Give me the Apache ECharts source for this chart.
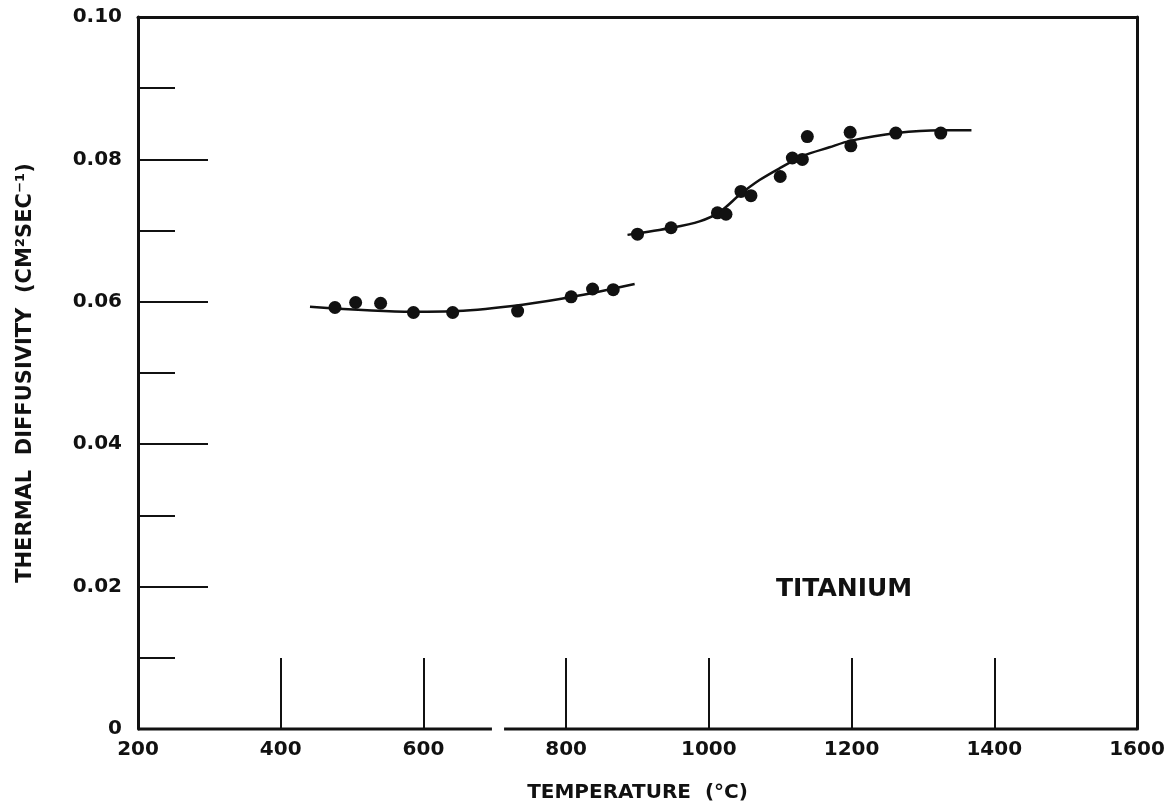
<!DOCTYPE html>
<html>
<head>
<meta charset="utf-8">
<script src="https://cdn.jsdelivr.net/npm/echarts@6/dist/echarts.min.js"></script>
<style>
  html, body { margin: 0; padding: 0; background: #fff; }
  #chart { width: 1172px; height: 811px; }
</style>
</head>
<body>
<div id="chart"></div>
<script>
// Measured points: temperature (°C) and thermal diffusivity (cm² s⁻¹)
const lowTemp  = [476, 505, 540, 586, 641, 732, 807, 837, 866];
const lowDiff  = [0.0592, 0.0599, 0.0598, 0.0585, 0.0585, 0.0587, 0.0607, 0.0618, 0.0617];
const highTemp = [900, 947, 1012, 1024, 1045, 1059, 1100, 1117, 1131, 1138, 1198, 1199, 1262, 1325];
const highDiff = [0.0695, 0.0704, 0.0725, 0.0723, 0.0755, 0.0749, 0.0776, 0.0802, 0.0800, 0.0832, 0.0838, 0.0819, 0.0837, 0.0837];

// Smoothed fit, alpha phase and beta phase
const fitLowTemp  = [441, 585, 647, 739, 809, 896];
const fitLowDiff  = [0.0593, 0.0586, 0.0587, 0.0596, 0.0607, 0.0625];
const fitHighTemp = [886, 948, 987, 1015, 1044, 1071, 1100, 1132, 1169, 1198, 1263, 1326, 1368];
const fitHighDiff = [0.0694, 0.0704, 0.0713, 0.0726, 0.0751, 0.0771, 0.0788, 0.0805, 0.0817, 0.0826, 0.0837, 0.0841, 0.0841];

// Axis ranges and tick steps
const xRange = [200, 1600];
const xStep = 200;
const yRange = [0, 0.10];
const yStep = 0.02;

// Bottom edge of the frame is drawn in two pieces (break near 700 °C)
const baselinePieces = [[200, 696], [713, 1600]];

const FONT = 'DejaVu Sans';
const INK = '#111';

const zip = (xs, ys) => xs.map((x, i) => [x, ys[i]]);

const chart = echarts.init(document.getElementById('chart'), null, { renderer: 'canvas' });

const frameAxisCommon = {
  axisLine: { show: true, onZero: false, lineStyle: { color: INK, width: 3 } },
  axisTick: { show: false },
  axisLabel: { show: false },
  splitLine: { show: false }
};

const series = [
  {
    type: 'line', name: 'fit-low', data: zip(fitLowTemp, fitLowDiff),
    smooth: 0.3, symbol: 'none', lineStyle: { color: INK, width: 2.5 }, z: 3
  },
  {
    type: 'line', name: 'fit-high', data: zip(fitHighTemp, fitHighDiff),
    smooth: 0.3, symbol: 'none', lineStyle: { color: INK, width: 2.5 }, z: 3
  },
  {
    type: 'scatter', name: 'alpha', data: zip(lowTemp, lowDiff),
    symbol: 'circle', symbolSize: 13, itemStyle: { color: INK, opacity: 1 }, z: 4
  },
  {
    type: 'scatter', name: 'beta', data: zip(highTemp, highDiff),
    symbol: 'circle', symbolSize: 13, itemStyle: { color: INK, opacity: 1 }, z: 4
  }
];

baselinePieces.forEach(([a, b]) => {
  series.push({
    type: 'line', data: [[a, 0], [b, 0]], symbol: 'none', clip: false,
    lineStyle: { color: INK, width: 3 }, z: 2, silent: true
  });
});

chart.setOption({
  animation: false,
  backgroundColor: '#fff',
  textStyle: { fontFamily: FONT, color: INK },
  grid: {
    left: 138, right: 35, top: 17, bottom: 82,
    containLabel: false, outerBoundsMode: 'none'
  },
  xAxis: [
    {
      type: 'value', position: 'bottom',
      min: xRange[0], max: xRange[1], interval: xStep,
      axisLine: { show: false },
      axisTick: { show: true, inside: true, length: 71, lineStyle: { color: INK, width: 2 } },
      axisLabel: {
        show: true, margin: 11, fontFamily: FONT, fontSize: 20, fontWeight: 'bold', color: INK,
        formatter: v => String(v)
      },
      splitLine: { show: false },
      name: 'TEMPERATURE  (°C)', nameLocation: 'middle', nameGap: 54,
      nameTextStyle: { fontFamily: FONT, fontSize: 20, fontWeight: 'bold', color: INK }
    },
    Object.assign({ type: 'value', position: 'top', min: xRange[0], max: xRange[1] }, frameAxisCommon)
  ],
  yAxis: [
    {
      type: 'value', position: 'left',
      min: yRange[0], max: yRange[1], interval: yStep,
      axisLine: { show: true, onZero: false, lineStyle: { color: INK, width: 3 } },
      axisTick: { show: true, inside: true, length: 70, lineStyle: { color: INK, width: 2 } },
      minorTick: { show: true, splitNumber: 2, length: 37, lineStyle: { color: INK, width: 2 } },
      axisLabel: {
        show: true, margin: 16, fontFamily: FONT, fontSize: 20, fontWeight: 'bold', color: INK,
        formatter: v => (v === 0 ? '0' : v.toFixed(2))
      },
      splitLine: { show: false },
      minorSplitLine: { show: false },
      name: 'THERMAL  DIFFUSIVITY  (CM²SEC⁻¹)', nameLocation: 'middle', nameRotate: 90, nameGap: 102,
      nameTextStyle: { fontFamily: FONT, fontSize: 21, fontWeight: 'bold', color: INK }
    },
    Object.assign({ type: 'value', position: 'right', min: yRange[0], max: yRange[1] }, frameAxisCommon)
  ],
  graphic: [
    {
      type: 'text', left: 776, top: 577,
      style: { text: 'TITANIUM', font: 'bold 25px "DejaVu Sans"', fill: INK }
    }
  ],
  series: series
});
</script>
</body>
</html>
